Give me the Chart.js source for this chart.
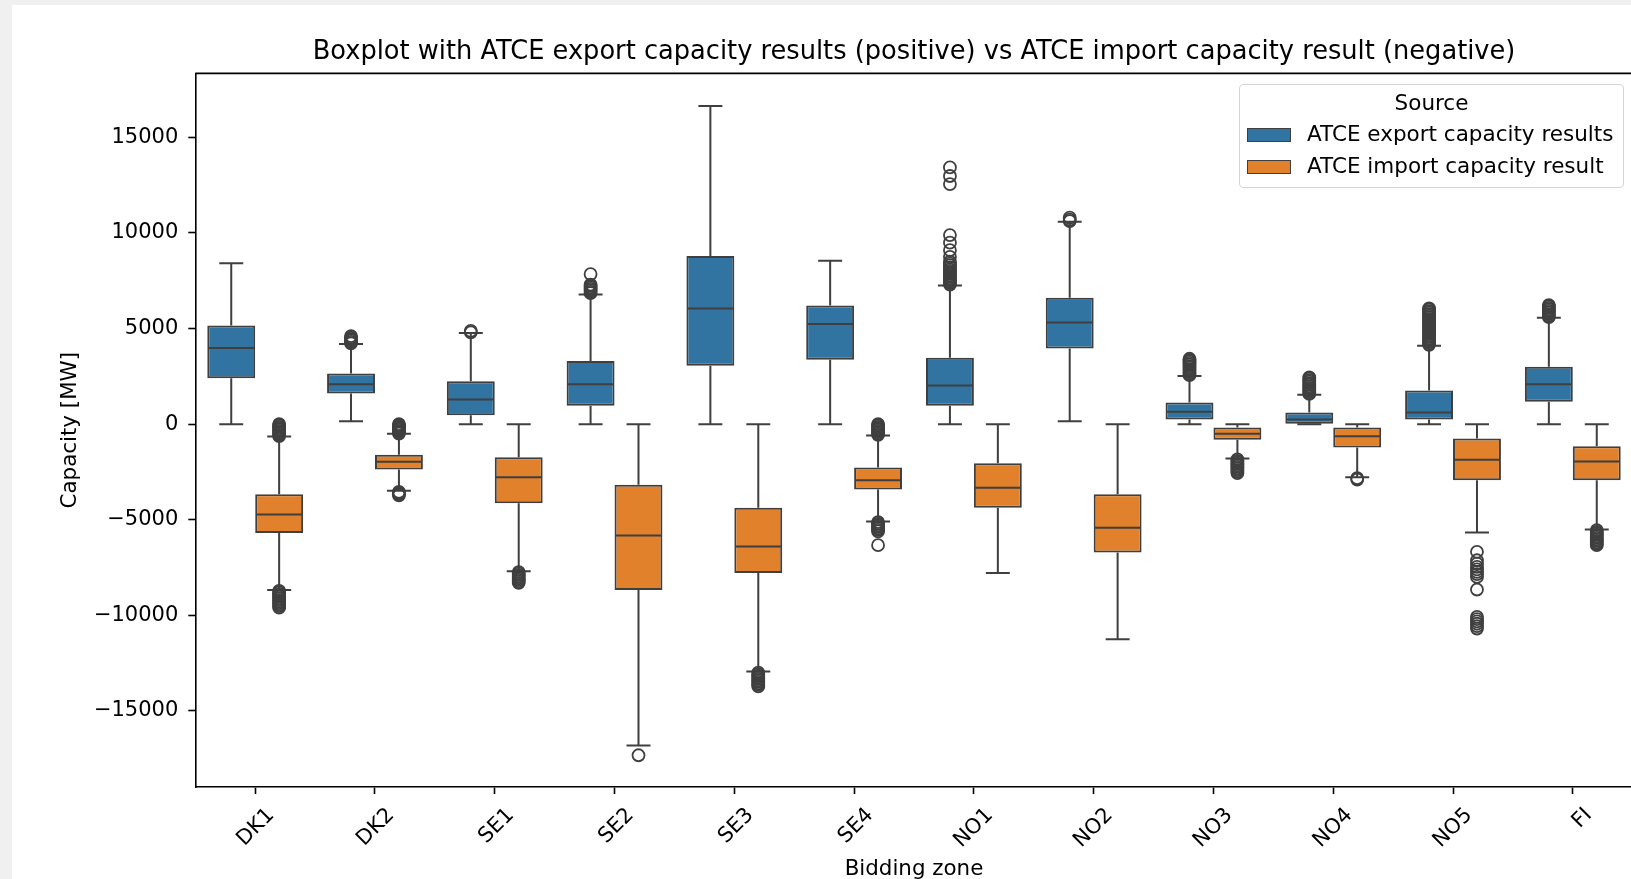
<!DOCTYPE html>
<html><head><meta charset="utf-8">
<script src="https://cdn.jsdelivr.net/npm/chart.js@4.4.0/dist/chart.umd.min.js"></script>
<style>
html,body{margin:0;padding:0;width:1631px;height:879px;overflow:hidden;background:#f0f0f0;font-family:"DejaVu Sans",sans-serif;}
#wrap{position:absolute;left:12px;top:5px;width:1700px;height:884px;background:#fff;}
#chart{display:block;}
.lg{position:absolute;font-size:21.5px;line-height:24px;color:#000;white-space:nowrap;}
#lgframe{position:absolute;left:1239px;top:84px;width:385px;height:104px;box-sizing:border-box;border:1.5px solid #d4d4d4;border-radius:4px;background:rgba(255,255,255,0.8);}
.patch{position:absolute;width:44px;height:14px;box-sizing:border-box;border:1.5px solid #3f3f3f;}
</style></head>
<body>
<div id="wrap"><canvas id="chart" width="1700" height="884"></canvas></div>
<div id="lgframe"></div>
<div id="lgtitle" class="lg" style="left:1239px;width:385px;text-align:center;top:90.5px;">Source</div>
<div id="lgitems"></div>
<script>
const categories = ['DK1','DK2','SE1','SE2','SE3','SE4','NO1','NO2','NO3','NO4','NO5','FI'];
const seriesLabels = ['ATCE export capacity results', 'ATCE import capacity result'];
const legendTitle = 'Source';
const yTicks = [-15000, -10000, -5000, 0, 5000, 10000, 15000];

// Export (positive) series
const exportLow    = [0, 157, 0, 0, 0, 0, 0, 157, 0, 0, 0, 0];
const exportQ1     = [2407, 1605, 471, 959, 3051, 3365, 959, 3960, 244, 20, 244, 1168];
const exportMedian = [3977, 2093, 1292, 2093, 6054, 5233, 2025, 5320, 645, 244, 611, 2093];
const exportQ3     = [5165, 2651, 2250, 3297, 8791, 6211, 3470, 6610, 1134, 611, 1762, 2999];
const exportHigh   = [8410, 4186, 4762, 6787, 16641, 8546, 7258, 10587, 2512, 1535, 4098, 5564];
const exportOutliers = [
  [],
  [4230, 4300, 4380, 4450, 4520, 4600],
  [4800, 4880],
  [6850, 6920, 7000, 7080, 7150, 7230, 7300, 7850],
  [],
  [],
  [7300, 7380, 7460, 7540, 7620, 7700, 7780, 7860, 7940, 8020, 8100, 8200, 8300, 8400, 8500, 8750, 9100, 9490, 9890, 12560, 12980, 13430],
  [10620, 10700, 10800],
  [2560, 2640, 2720, 2800, 2880, 2960, 3040, 3120, 3200, 3280, 3350, 3420],
  [1580, 1660, 1740, 1820, 1900, 1980, 2060, 2140, 2220, 2300, 2380, 2440],
  [4150, 4230, 4310, 4390, 4470, 4550, 4630, 4710, 4790, 4870, 4950, 5030, 5110, 5190, 5270, 5350, 5430, 5510, 5590, 5670, 5750, 5830, 5910, 5990, 6050],
  [5600, 5680, 5760, 5840, 5920, 6000, 6080, 6160, 6230]
];

// Import (negative) series
const importHigh   = [-645, -507, 0, 0, 0, -593, 0, 0, 0, 0, 0, 0];
const importQ3     = [-3663, -1606, -1727, -3175, -4379, -2267, -2041, -3663, -174, -174, -750, -1151];
const importMedian = [-4727, -1973, -2773, -5826, -6400, -2930, -3332, -5425, -506, -628, -1866, -1953];
const importQ1     = [-5688, -2370, -4134, -8670, -7780, -3419, -4379, -6716, -820, -1221, -2930, -2930];
const importLow    = [-8670, -3490, -7693, -16815, -12942, -5093, -7780, -11251, -1797, -2773, -5669, -5510];
const importOutliers = [
  [0, -70, -140, -210, -280, -350, -420, -490, -560, -620, -8720, -8800, -8880, -8960, -9040, -9120, -9200, -9280, -9360, -9440, -9520, -9600],
  [0, -60, -120, -180, -240, -300, -360, -430, -490, -3540, -3600, -3660, -3720],
  [-7740, -7820, -7900, -7980, -8060, -8140, -8220, -8300],
  [-17320],
  [-13000, -13080, -13160, -13240, -13320, -13400, -13480, -13560, -13640, -13720],
  [0, -70, -140, -210, -280, -350, -420, -500, -560, -5130, -5210, -5290, -5370, -5450, -5530, -5610, -6330],
  [],
  [],
  [-1840, -1920, -2000, -2080, -2160, -2240, -2320, -2400, -2480, -2560],
  [-2830, -2900],
  [-6680, -7120, -7300, -7470, -7600, -7730, -7850, -7990, -8650, -10080, -10200, -10320, -10440, -10560, -10690],
  [-5550, -5630, -5710, -5790, -5870, -5950, -6030, -6110, -6190, -6270, -6330]
];

const seriesColors = ['#3274a1', '#e1812c'];
const LINE = '#3f3f3f';

const stats = [
  {lo: exportLow, q1: exportQ1, med: exportMedian, q3: exportQ3, hi: exportHigh, out: exportOutliers},
  {lo: importLow, q1: importQ1, med: importMedian, q3: importQ3, hi: importHigh, out: importOutliers}
];

// legend (HTML)
const lgItems = document.getElementById('lgitems');
document.getElementById('lgtitle').textContent = legendTitle;
const patchTops = [127.7, 160.2];
const textTops = [121.5, 154.1];
seriesLabels.forEach((lab, i) => {
  const p = document.createElement('div');
  p.className = 'patch';
  p.style.left = '1246.7px'; p.style.top = patchTops[i] + 'px';
  p.style.background = seriesColors[i];
  lgItems.appendChild(p);
  const t = document.createElement('div');
  t.className = 'lg';
  t.style.left = '1307px'; t.style.top = textTops[i] + 'px';
  t.textContent = lab;
  lgItems.appendChild(t);
});

const boxExtras = {
  id: 'boxExtras',
  afterDatasetsDraw(chart) {
    const ctx = chart.ctx, ys = chart.scales.y;
    const py = v => ys.getPixelForValue(v);
    ctx.save();
    ctx.strokeStyle = LINE;
    ctx.lineWidth = 2;
    ctx.lineCap = 'butt';
    chart.data.datasets.forEach((ds, di) => {
      const meta = chart.getDatasetMeta(di);
      const st = stats[di];
      meta.data.forEach((bar, i) => {
        const x = bar.x, w = bar.width;
        ctx.beginPath();
        ctx.moveTo(x, py(st.q3[i])); ctx.lineTo(x, py(st.hi[i]));
        ctx.moveTo(x, py(st.q1[i])); ctx.lineTo(x, py(st.lo[i]));
        ctx.moveTo(x - w / 4, py(st.hi[i])); ctx.lineTo(x + w / 4, py(st.hi[i]));
        ctx.moveTo(x - w / 4, py(st.lo[i])); ctx.lineTo(x + w / 4, py(st.lo[i]));
        ctx.moveTo(x - w / 2 + 1, py(st.med[i])); ctx.lineTo(x + w / 2 - 1, py(st.med[i]));
        ctx.stroke();
        ctx.lineWidth = 1.8;
        st.out[i].forEach(v => {
          ctx.beginPath();
          ctx.arc(x, py(v), 6, 0, Math.PI * 2);
          ctx.stroke();
        });
        ctx.lineWidth = 2;
      });
    });
    const a = chart.chartArea;
    ctx.strokeStyle = '#000';
    ctx.lineWidth = 1.6;
    ctx.beginPath();
    ctx.moveTo(a.left, a.top); ctx.lineTo(a.right, a.top); ctx.lineTo(a.right, a.bottom);
    ctx.stroke();
    ctx.restore();
  }
};

Chart.defaults.font.family = "'DejaVu Sans', sans-serif";
Chart.defaults.font.size = 21;
Chart.defaults.color = '#000';

new Chart(document.getElementById('chart'), {
  type: 'bar',
  data: {
    labels: categories,
    datasets: [
      {label: seriesLabels[0], data: exportQ1.map((v, i) => [v, exportQ3[i]]), backgroundColor: seriesColors[0]},
      {label: seriesLabels[1], data: importQ1.map((v, i) => [v, importQ3[i]]), backgroundColor: seriesColors[1]}
    ].map(d => Object.assign(d, {borderColor: LINE, borderWidth: 2, borderSkipped: false, categoryPercentage: 0.8, barPercentage: 1.0}))
  },
  options: {
    responsive: false,
    animation: false,
    events: [],
    layout: {padding: {left: 0, right: 79.3, top: 0, bottom: 0}},
    plugins: {
      legend: {display: false},
      tooltip: {enabled: false},
      title: {
        display: true,
        fullSize: false,
        text: 'Boxplot with ATCE export capacity results (positive) vs ATCE import capacity result (negative)',
        font: {size: 25.7, weight: 'normal'},
        color: '#000',
        padding: {top: 31.8, bottom: 5.7}
      }
    },
    scales: {
      x: {
        type: 'category',
        offset: true,
        grid: {display: true, drawOnChartArea: false, offset: false, drawTicks: true, tickLength: 7, tickColor: '#000', tickWidth: 1.6, color: '#000'},
        border: {display: true, color: '#000', width: 1.6},
        ticks: {minRotation: 45, maxRotation: 45, autoSkip: false, padding: 9, labelOffset: 16, font: {size: 21}},
        title: {display: true, text: 'Bidding zone', font: {size: 21.4}, padding: {top: 0, bottom: 7.2}},
        afterFit: s => { s.height = 102; }
      },
      y: {
        type: 'linear',
        min: -18980,
        max: 18350,
        afterBuildTicks: s => { s.ticks = yTicks.map(v => ({value: v})); },
        grid: {display: true, drawOnChartArea: false, drawTicks: true, tickLength: 7, tickColor: '#000', tickWidth: 1.6, color: '#000'},
        border: {display: true, color: '#000', width: 1.6},
        ticks: {padding: 10, font: {size: 21}, callback: v => String(v).replace('-', '\u2212')},
        title: {display: true, text: 'Capacity [MW]', font: {size: 21.4}, padding: {top: 46, bottom: 0}},
        afterFit: s => { s.width = 183.3; }
      }
    }
  },
  plugins: [boxExtras]
});
</script>
</body></html>
